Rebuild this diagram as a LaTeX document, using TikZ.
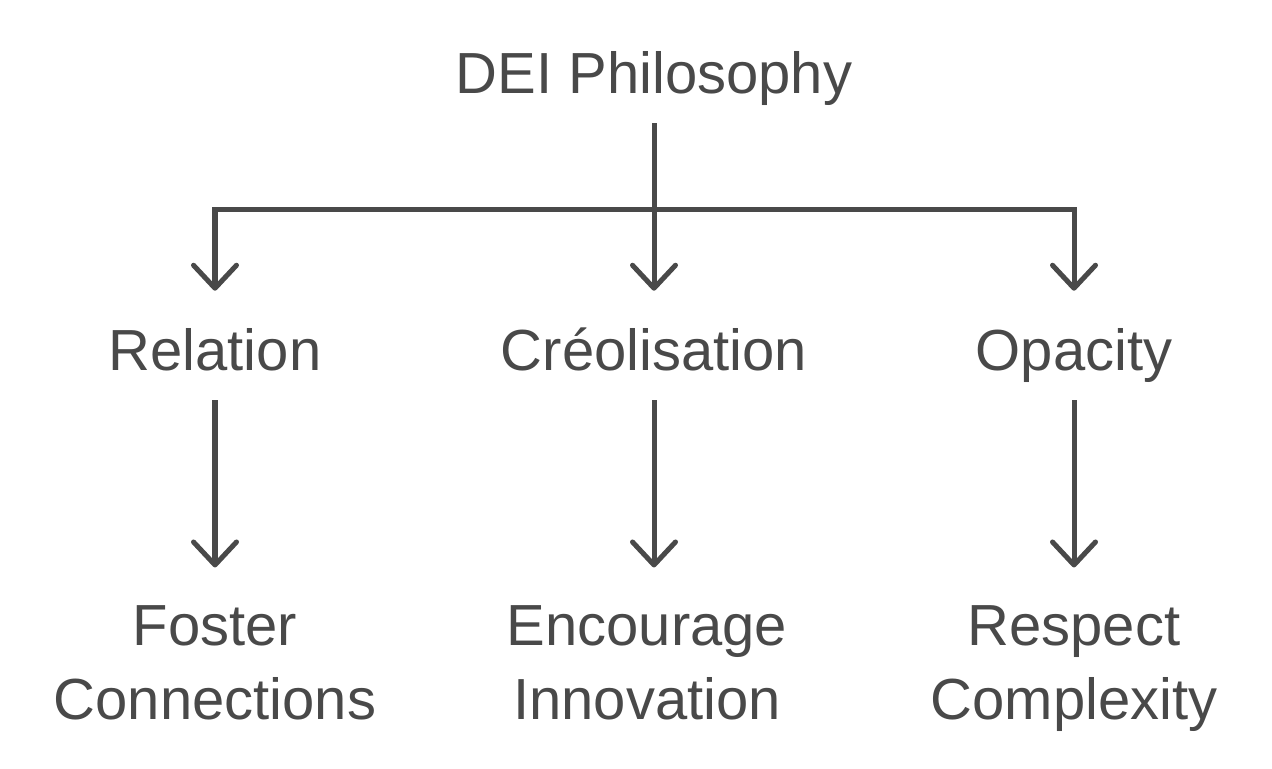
\documentclass[tikz,border=0pt]{standalone}
\usepackage{fontspec}
\setmainfont{Liberation Sans}
\usepackage[HTML]{xcolor}
\usetikzlibrary{positioning, arrows.meta}
\definecolor{ink}{HTML}{494949}

\begin{document}
\begin{tikzpicture}[x=0.02cm, y=-0.02cm,
  label/.style={inner sep=0pt, anchor=base, text=ink,
    font=\fontsize{33pt}{42pt}\selectfont},
  single/.style={label, text height=25pt, text depth=7pt},
  double/.style={label, align=center},
  link/.style={draw=ink, line width=2.85pt},
  arrow/.style={link, shorten <=0.35cm, shorten >=0.7cm,
    -{Straight Barb[length=0.46cm, width=0.86cm, round]}},
  leaf/.style={arrow, shorten >=0.75cm}]
\useasboundingbox (0,0) rectangle (1272,768);
% top
\node[single] (dei) at (654,93) {DEI Philosophy};
% middle row
\node[single] (rel) at (215,370) {Relation};
\node[single] (cre) at (654,370) {Créolisation};
\node[single] (opa) at (1074,370) {Opacity};
% bottom row (base = last line)
\node[double] (fos) at (215,719) {Foster\\Connections};
\node[double] (enc) at (647,719) {Encourage\\Innovation};
\node[double] (res) at (1074,719) {Respect\\Complexity};
% branches
\coordinate (busL) at (215,209);
\coordinate (busR) at (1074,209);
\draw[link, line cap=rect] (busL) -- (busR);
\draw[arrow, shorten <=0pt] (busL) -- (rel.north);
\draw[arrow, shorten <=0pt] (busR) -- (opa.north);
\draw[arrow] (dei.south) -- (cre.north);
% leaves
\draw[leaf] (rel.south) -- (rel.south |- fos.north);
\draw[leaf] (cre.south) -- (cre.south |- enc.north);
\draw[leaf] (opa.south) -- (opa.south |- res.north);
\end{tikzpicture}
\end{document}
